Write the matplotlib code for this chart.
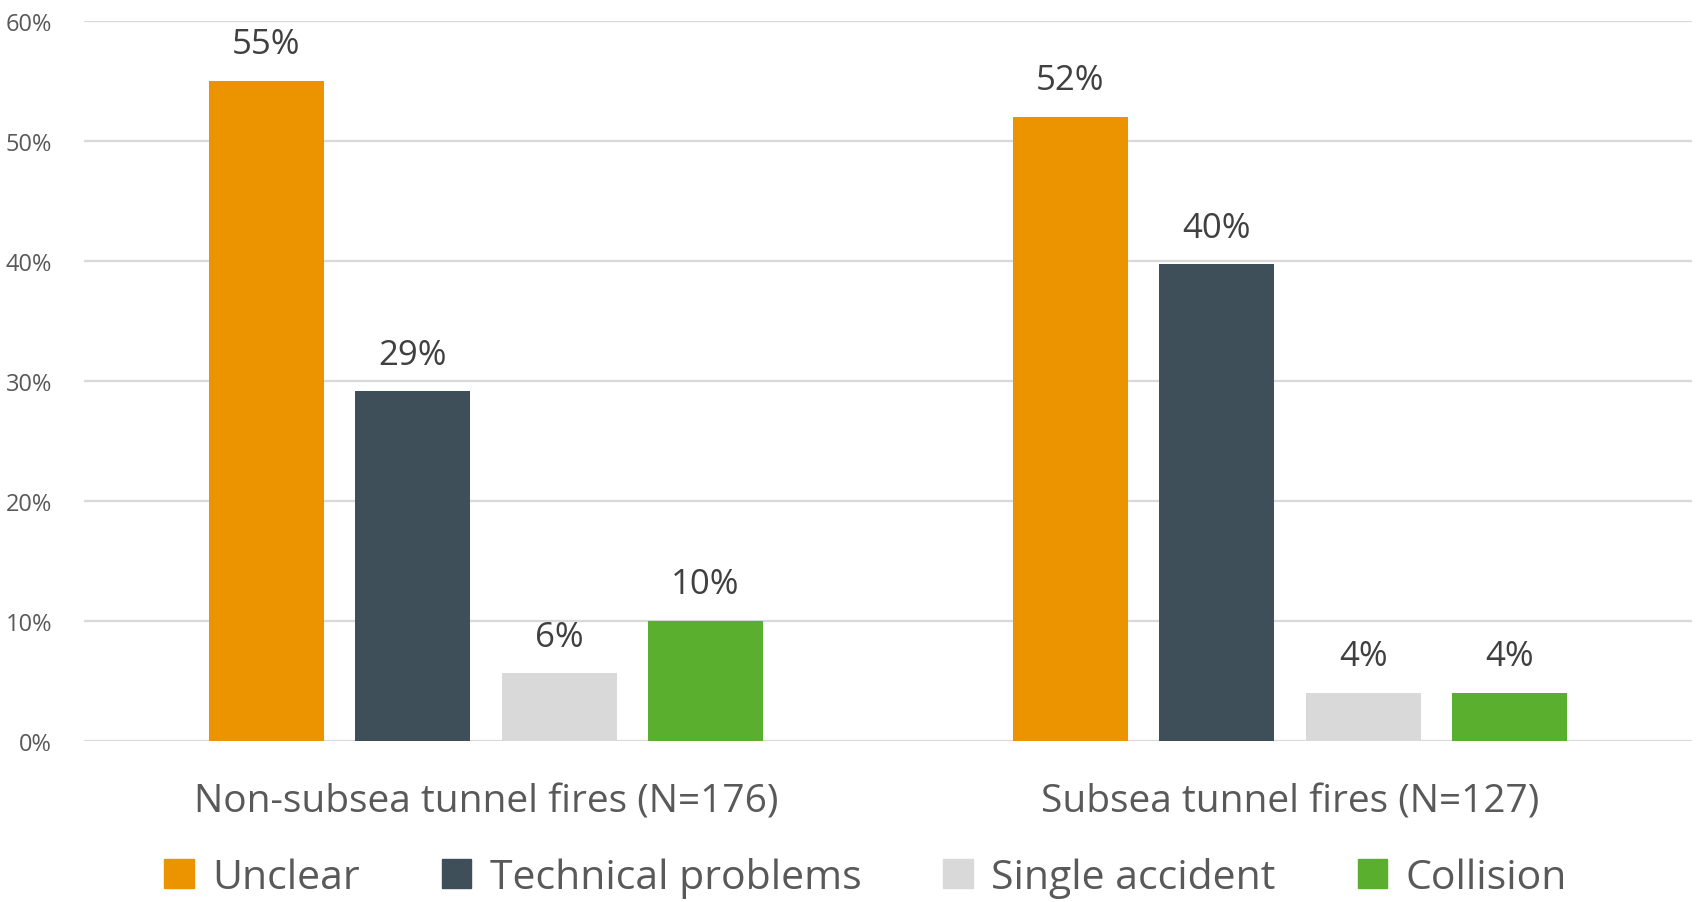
import numpy as np
import matplotlib.pyplot as plt
from matplotlib.patches import Patch
from matplotlib.ticker import PercentFormatter

plt.rcParams["font.family"] = ["Open Sans", "DejaVu Sans"]

groups = ["Non-subsea tunnel fires (N=176)", "Subsea tunnel fires (N=127)"]
causes = ["Unclear", "Technical problems", "Single accident", "Collision"]
unclear = [55.0, 52.0]
technical = [29.1, 39.7]
single = [5.6, 4.0]
collision = [10.0, 4.0]

colors = ["#EC9300", "#3E4F5A", "#D9D9D9", "#5BAF2F"]
series = [unclear, technical, single, collision]

fig = plt.figure(figsize=(16.97, 9.03), dpi=100)
ax = fig.add_axes([0.0495, 0.1788, 0.9475, 0.7972])

x = np.arange(len(groups))
width, step = 0.143, 0.182
for i, (vals, col) in enumerate(zip(series, colors)):
    pos = x + (i - 1.5) * step
    ax.bar(pos, vals, width=width, color=col, zorder=3)
    for p, v in zip(pos, vals):
        ax.text(p, v + 1.6, f"{v:.0f}%", ha="center", va="bottom",
                fontsize=25, color="#404040")

ax.set_xlim(-0.5, 1.5)
ax.set_ylim(0, 60)
ax.set_yticks(np.arange(0, 61, 10))
ax.yaxis.set_major_formatter(PercentFormatter(decimals=0))
ax.grid(axis="y", color="#D9D9D9", linewidth=1.6, zorder=0)
for s in ax.spines.values():
    s.set_visible(False)
ax.tick_params(axis="y", length=0, pad=23, labelsize=17, labelcolor="#595959")
ax.tick_params(axis="x", length=0, pad=30, labelsize=28, labelcolor="#595959")
ax.set_xticks(x)
ax.set_xticklabels(groups)

handles = [Patch(color=c) for c in colors]
fig.legend(handles, causes, loc="center", bbox_to_anchor=(0.51, 0.027), ncol=4,
           frameon=False, fontsize=29.5, labelcolor="#595959",
           handlelength=0.72, handleheight=0.72, handletextpad=0.45,
           columnspacing=2.0)

fig.savefig("out.png", dpi=100)
